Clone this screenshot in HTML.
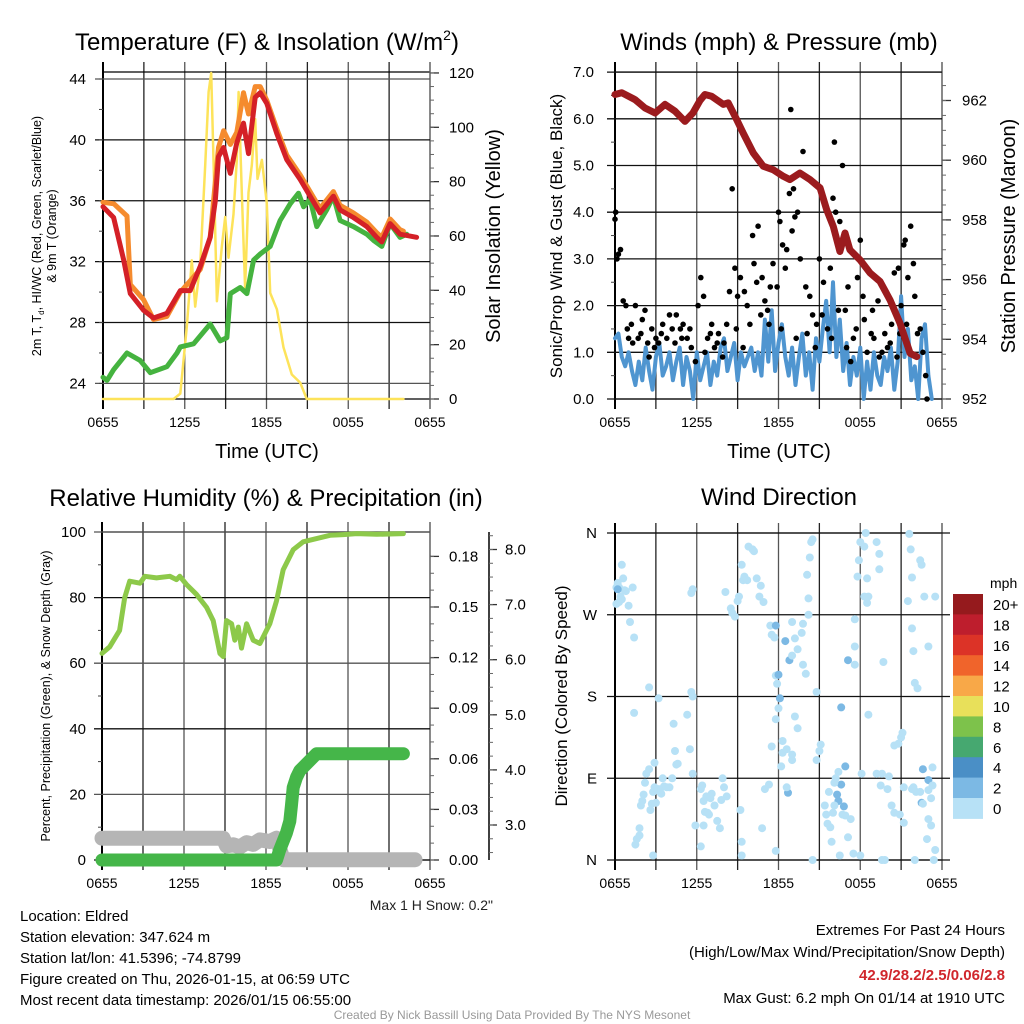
<!DOCTYPE html>
<html><head><meta charset="utf-8"><title>Mesonet station meteogram: Eldred</title>
<style>
html,body{margin:0;padding:0;background:#fff;}
svg{display:block;font-family:"Liberation Sans",Arial,sans-serif;}
</style></head>
<body>
<svg id="chart" width="1024" height="1024" viewBox="0 0 1024 1024" xmlns="http://www.w3.org/2000/svg">
<rect width="1024" height="1024" fill="#fff"/>
<g id="layer"></g>
<!-- titles -->
<text x="267" y="50" font-size="24" text-anchor="middle">Temperature (F) &amp; Insolation (W/m<tspan font-size="14" dy="-10">2</tspan><tspan dy="10">)</tspan></text>
<text x="779" y="50" font-size="24" text-anchor="middle">Winds (mph) &amp; Pressure (mb)</text>
<text x="266" y="506" font-size="24" text-anchor="middle">Relative Humidity (%) &amp; Precipitation (in)</text>
<text x="779" y="505" font-size="24" text-anchor="middle">Wind Direction</text>
<!-- axis titles -->
<text x="267" y="458" font-size="20" text-anchor="middle">Time (UTC)</text>
<text x="779" y="458" font-size="20" text-anchor="middle">Time (UTC)</text>
<text transform="translate(41,236) rotate(-90)" font-size="12.5" text-anchor="middle">2m T, T<tspan font-size="8" dy="3">d</tspan><tspan dy="-3">, HI/WC (Red, Green, Scarlet/Blue)</tspan></text>
<text transform="translate(56,236) rotate(-90)" font-size="12.5" text-anchor="middle">&amp; 9m T (Orange)</text>
<text transform="translate(500,236) rotate(-90)" font-size="20" text-anchor="middle">Solar Insolation (Yellow)</text>
<text transform="translate(562,236) rotate(-90)" font-size="17" text-anchor="middle">Sonic/Prop Wind &amp; Gust (Blue, Black)</text>
<text transform="translate(1015,236) rotate(-90)" font-size="20" text-anchor="middle">Station Pressure (Maroon)</text>
<text transform="translate(50,696) rotate(-90)" font-size="12.5" text-anchor="middle">Percent, Precipitation (Green), &amp; Snow Depth (Gray)</text>
<text transform="translate(567,696) rotate(-90)" font-size="17" text-anchor="middle">Direction (Colored By Speed)</text>
<text x="493" y="910" font-size="14" text-anchor="end" fill="#222">Max 1 H Snow: 0.2"</text>
<!-- footer -->
<g font-size="15" fill="#000">
<text x="20" y="921">Location: Eldred</text>
<text x="20" y="942">Station elevation: 347.624 m</text>
<text x="20" y="963">Station lat/lon: 41.5396; -74.8799</text>
<text x="20" y="984">Figure created on Thu, 2026-01-15, at 06:59 UTC</text>
<text x="20" y="1005">Most recent data timestamp: 2026/01/15 06:55:00</text>
</g>
<g font-size="15" text-anchor="end">
<text x="1005" y="935">Extremes For Past 24 Hours</text>
<text x="1005" y="957">(High/Low/Max Wind/Precipitation/Snow Depth)</text>
<text x="1005" y="980" fill="#d0262c" font-weight="bold">42.9/28.2/2.5/0.06/2.8</text>
<text x="1005" y="1003">Max Gust: 6.2 mph On 01/14 at 1910 UTC</text>
</g>
<text x="512" y="1019" font-size="12" fill="#999" text-anchor="middle">Created By Nick Bassill Using Data Provided By The NYS Mesonet</text>
</svg>
<script>
// ---------- data ----------
const timeTickLabels = ["0655","1255","1855","0055","0655"];
const tempTicks = [24,28,32,36,40,44];
const solarTicks = [0,20,40,60,80,100,120];
const windTicks = [0,1,2,3,4,5,6,7];
const pressTicks = [952,954,956,958,960,962];
const rhTicks = [0,20,40,60,80,100];
const precipTicks = [0,0.03,0.06,0.09,0.12,0.15,0.18];
const snowTicks = [3,4,5,6,7,8];
const dirTicks = ["N","E","S","W","N"];
const speedBins = ["0","2","4","6","8","10","12","14","16","18","20+"];
const speedColors = ["#b7e1f6","#7cb9e4","#4a8fc6","#46a870","#7dc24b","#e8e05a","#f8a848","#f0642b","#dc3327","#be1e2d","#951a1d"];

const tempHours = [0,0.78,1.52,2.0,2.98,3.71,4.69,5.67,6.4,7.14,7.87,8.24,8.48,8.85,9.34,9.82,10.31,10.68,11.17,11.54,12.02,12.76,13.49,14.47,15.2,15.93,16.91,17.4,18.38,19.36,20.09,20.46,21.07,21.8,23.02];
const temp2m = [35.6,34.9,32.1,29.9,28.8,28.3,28.6,30.1,30.1,31.7,33.6,36.0,38.9,39.5,37.8,39.8,41.1,39.1,42.8,43.1,42.4,40.4,38.7,37.4,36.3,35.2,36.3,35.4,34.9,34.3,33.6,33.3,34.5,33.8,33.6];
const temp9mHours = [0,0.8,1.76,2.0,2.98,3.71,4.69,5.67,7.14,7.87,8.48,8.85,9.34,9.82,10.31,10.68,11.17,11.54,12.02,12.76,13.49,14.47,15.2,15.93,16.91,17.4,18.38,19.36,20.09,20.46,21.07,21.8,22.05];
const temp9m = [35.9,35.8,35.0,30.5,29.5,28.2,28.4,30.0,31.5,33.6,39.5,40.6,39.7,40.5,43.1,41.7,43.5,43.5,42.6,40.7,39.0,37.7,36.6,35.5,36.6,35.7,35.2,34.6,33.9,33.6,34.8,34.1,34.0];
const dewHours = [0,0.29,0.78,1.76,2.74,3.47,4.69,5.43,5.67,6.65,7.87,8.6,9.09,9.34,10.07,10.56,11.05,11.54,12.27,13.0,13.74,14.35,14.72,15.2,15.69,16.42,16.91,17.4,18.38,19.36,19.85,20.46,21.07,21.8,22.29];
const dewpoint = [24.4,24.2,24.9,26.0,25.5,24.7,25.1,26.0,26.4,26.6,27.9,26.8,27.0,29.9,30.3,29.9,32.1,32.5,33.0,34.7,35.8,36.5,35.6,36.1,34.3,35.4,36.3,34.7,34.3,33.8,33.4,33.0,34.5,33.6,33.8];
const solarHours = [0,5.18,5.67,6.16,6.52,6.77,7.14,7.5,7.75,7.94,8.11,8.36,8.72,8.97,9.21,9.58,9.82,9.95,10.19,10.43,10.68,10.92,11.17,11.34,11.66,12.02,12.27,12.76,13.25,13.86,14.47,14.96,22.05];
const solar = [0,0,2,27,51,34,50,86,113,120,88,36,56,67,52,68,88,113,76,41,76,86,103,81,88,72,39,33,19,9,6,0,0];

const pressHours = [0,0.49,1.47,2.2,2.94,3.67,4.4,5.14,5.72,6.24,6.6,7.09,7.95,8.31,8.93,9.42,10.15,10.88,11.62,12.35,12.84,13.57,14.31,15.05,15.54,16.02,16.51,16.88,17.24,17.98,18.72,19.45,20.18,20.92,21.66,22.15];
const pressure = [962.2,962.26,962.03,961.75,961.58,961.87,961.64,961.3,961.58,962.0,962.2,962.14,961.87,961.92,961.36,960.9,960.24,959.8,959.68,959.46,959.35,959.57,959.35,959.07,958.34,957.78,956.94,957.56,957.0,956.66,956.22,955.94,955.32,954.54,953.53,953.42];
const windStep = 0.25;
const windSpeed = [1.3,1.4,0.9,0.7,1.0,0.6,0.3,0.8,0.4,1.1,0.6,0.2,
0.9,1.2,0.5,0.7,1.0,0.4,0.8,1.1,0.3,0.9,0.6,0.0,
1.0,0.4,0.7,1.0,0.3,0.8,0.5,1.1,1.3,0.6,0.9,1.2,
0.4,1.0,0.7,0.9,1.1,0.6,1.0,0.5,1.7,0.8,1.9,0.6,
1.2,1.6,0.9,0.5,1.1,0.3,0.9,1.4,0.5,1.0,0.2,1.3,
0.8,1.5,2.1,1.0,2.5,0.9,1.7,0.6,1.2,0.3,0.9,0.5,
1.1,0.0,0.8,0.2,1.0,0.5,0.3,0.9,0.6,1.1,0.2,0.8,
2.2,0.9,1.5,0.4,0.7,0.0,1.3,1.6,0.5,0.0];
const gusts = [[0,3.85],[0.05,4.0],[0.15,3.0],[0.25,3.1],[0.4,3.2],[0.6,2.1],[0.8,2.0],[1.0,1.3],[1.2,1.6],[1.5,2.0],[1.7,1.3],[2.0,1.7],[2.2,1.9],[2.5,0.9],[2.7,1.5],[3.0,1.3],[3.2,1.2],[3.5,1.6],[3.8,1.3],[4.0,1.8],[4.2,1.5],[4.5,1.8],[4.8,1.5],[5.0,1.6],[5.3,1.3],[5.6,1.1],[5.9,0.8],[6.1,2.0],[6.3,2.6],[6.5,2.2],[6.8,1.3],[7.1,1.6],[7.3,1.1],[7.6,1.4],[7.9,0.9],[8.2,1.6],[8.4,2.3],[8.6,4.5],[8.8,2.8],[9.0,2.2],[9.2,2.6],[9.5,2.3],[9.7,2.0],[9.9,1.6],[10.1,3.5],[10.2,2.9],[10.4,2.5],[10.5,3.7],[10.8,2.6],[11.0,2.1],[11.2,1.9],[11.4,2.4],[11.6,2.9],[11.9,2.4],[12.0,4.0],[12.1,3.8],[12.3,3.3],[12.5,2.8],[12.6,3.2],[12.8,4.4],[12.9,6.2],[13.0,3.6],[13.1,4.5],[13.2,3.9],[13.4,4.0],[13.6,3.0],[13.8,5.3],[14.0,2.4],[14.3,2.2],[14.5,1.8],[14.8,1.6],[15.0,3.0],[15.3,2.5],[15.6,1.5],[15.8,2.8],[16.0,4.3],[16.1,5.5],[16.2,4.0],[16.5,3.8],[16.7,5.0],[16.9,1.9],[17.1,2.4],[17.3,0.8],[17.5,1.3],[17.8,2.6],[18.0,3.4],[18.2,2.2],[18.5,1.0],[18.8,1.4],[19.0,1.3],[19.3,2.1],[19.6,1.0],[19.8,1.4],[20.0,1.1],[20.3,1.6],[20.5,2.7],[20.7,0.9],[20.8,2.8],[21.0,2.0],[21.2,3.3],[21.3,3.4],[21.5,2.6],[21.7,3.7],[21.9,2.9],[22.0,2.2],[22.2,1.4],[22.6,1.0],[22.8,0.5],[22.9,0.0],
[0.9,1.5],[1.3,1.2],[1.9,1.4],[2.4,1.2],[2.9,1.1],[3.4,1.4],[4.4,1.2],[4.9,1.3],[5.5,1.5],[6.6,1.0],[7.0,1.4],[7.5,1.2],[8.0,1.2],[8.9,1.5],[9.4,1.1],[10.7,1.8],[11.3,1.6],[12.2,1.5],[13.3,1.3],[14.1,1.4],[14.7,1.1],[15.2,1.8],[15.9,1.3],[16.4,1.9],[17.0,1.1],[17.7,1.5],[18.3,1.7],[18.9,1.9],[19.4,0.9],[20.2,1.2],[20.9,1.4],[21.4,1.6],[22.4,1.5]];

const rhHours = [0,0.56,1.29,1.66,2.03,2.78,3.14,3.99,4.96,5.45,5.69,6.18,6.91,7.65,8.14,8.63,8.87,9.11,9.48,9.72,9.97,10.21,10.58,11.06,11.55,12.28,12.77,13.26,13.99,14.72,15.7,16.68,17.65,18.63,20.1,22.05];
const rh = [63,65,70,80,85,84.4,86.5,86,86.5,85.5,86.5,84,81,77,73,63,62,73,72,67,71,64.6,72,67,66,72,79,88.5,94.6,97,98,99,99.2,99.5,99.3,99.5];
const precipHours = [0,12.77,13.0,13.49,13.74,13.86,13.99,14.23,14.47,14.96,15.7,22.05];
const precip = [0,0,0.006,0.016,0.023,0.032,0.043,0.049,0.053,0.057,0.063,0.063];
const snowHours = [0,8.87,9.11,9.6,10.09,10.58,11.06,11.55,12.28,12.77,13.26,22.9];
const snow = [2.76,2.76,2.62,2.64,2.6,2.68,2.65,2.73,2.7,2.76,2.37,2.37];

// [hour, direction deg, speed mph]
const dirObs = [[0.1,300,1],[0.2,305,1],[0.3,300,1],[0.4,290,1],[0.5,325,1],[0.6,310,1],[0.7,297,1],[0.8,296,1],[1.0,280,1],[1.1,262,1],[0.1,282,1],[0.3,284,1],[0.5,287,1],[1.3,300,1],[1.4,245,1],[0.2,298,3],
[1.4,162,1],[1.5,17,1],[1.6,23,1],[1.8,27,1],[1.8,35,1],[1.9,60,1],[2.0,65,1],[2.1,72,1],[2.2,85,1],[2.3,95,1],[2.5,100,1],[2.5,190,1],[2.6,55,1],[2.7,62,1],[2.8,75,1],[2.9,80,1],[2.9,107,1],[3.2,178,1],[3.0,63,1],[3.2,78,1],[3.3,75,1],[3.4,73,1],[3.5,90,1],[3.6,81,1],[3.8,80,1],[4.0,80,1],[4.2,90,1],[4.3,150,1],[4.4,120,1],[4.5,105,1],[4.6,106,1],[5.6,185,1],[5.7,180,1],[5.3,160,1],[5.5,122,1],[5.7,95,1],[5.9,38,1],[2.8,5,1],
[6.3,78,1],[6.4,82,1],[6.5,65,1],[6.6,53,1],[6.7,70,1],[6.9,50,1],[7.0,68,1],[7.1,73,1],[7.3,60,1],[7.5,43,1],[7.7,35,1],[7.9,90,1],[8.0,80,1],[8.2,70,1],[7.8,66,1],[6.8,52,1],[6.5,38,1],[6.3,15,1],
[5.7,298,1],[5.6,294,1],[8.1,295,1],[8.5,277,1],[8.6,272,1],[8.8,268,1],[9.0,285,1],[9.1,290,1],[9.3,325,1],[9.4,308,1],[9.5,312,1],[9.7,308,1],[9.8,345,1],[10.1,342,1],[10.2,340,1],[10.4,310,1],[10.6,290,1],[10.7,302,1],[10.9,284,1],[11.4,258,1],[11.5,248,1],[11.7,245,1],[11.8,203,1],[11.9,194,1],[12.0,167,1],[12.2,103,1],[12.3,118,1],[11.8,155,1],[11.5,125,1],[11.3,83,1],[11.0,78,1],[10.8,35,1],[9.3,20,1],[9.2,55,1],[11.8,10,1],[9.3,5,1],
[12.1,178,3],[12.0,204,3],[11.8,258,3],[12.5,241,3],[12.8,220,3],[12.7,74,3],[16.9,103,3],[17.1,220,3],[16.6,168,3],[16.4,65,3],[16.6,83,3],[16.8,59,3],[16.3,72,3],[22.5,63,3],[22.6,100,3],[23.0,88,3],
[12.3,131,1],[12.6,122,1],[12.6,80,1],[13.0,110,1],[13.0,116,1],[13.2,158,1],[13.4,145,1],[13.0,225,1],[13.4,232,1],[13.7,250,1],[13.8,260,1],[13.0,262,1],[13.2,244,1],[13.8,215,1],[14.0,205,1],[14.2,270,1],[14.2,288,1],[14.1,314,1],[14.3,333,1],[14.4,350,1],[14.5,353,1],[14.8,185,1],[15.0,120,1],[14.8,110,1],[15.1,127,1],[15.4,60,1],[15.5,50,1],[15.6,40,1],[15.7,75,1],[16.0,52,1],[16.1,60,1],[16.1,85,1],[16.2,90,1],[16.4,97,1],[15.8,36,1],[15.9,20,1],[16.5,5,1],[16.7,50,1],[16.9,49,1],[17.1,25,1],[17.3,45,1],[17.6,235,1],[17.6,215,1],[17.6,265,1],[17.8,312,1],[17.9,330,1],[18.0,350,1],[18.3,345,1],[18.4,360,1],[18.5,310,1],[18.5,283,1],[18.3,290,1],[18.1,95,1],[18.6,160,1],[18.6,290,1],[19.2,350,1],[19.4,337,1],[19.4,320,1],[19.7,218,1],[19.2,95,1],[19.5,82,1],[19.6,95,1],[20.0,78,1],[20.1,92,1],[20.5,126,1],[20.3,60,1],[20.8,128,1],[20.5,52,1],[21.0,135,1],[21.1,140,1],[21.2,80,1],[20.9,50,1],[21.2,41,1],[21.8,78,1],[21.9,80,1],[22.1,75,1],[21.5,285,1],[21.6,359,1],[21.7,342,1],[21.8,311,1],[21.8,255,1],[21.9,230,1],[22.0,195,1],[22.5,325,1],[22.4,330,1],[22.2,189,1],[22.4,75,1],[22.6,62,1],[23.0,77,1],[23.2,68,1],[23.3,102,1],[23.3,82,1],[23.0,235,1],[22.7,290,1],[23.5,290,1],[23.0,45,1],[23.2,38,1],[23.5,11,1],[23.4,0,1],[22.9,23,1],[22.0,0,1],[19.6,0,1],[19.8,0,1],[14.5,0,1],[18.0,5,1],[17.5,7,1]];

// ---------- scales ----------
const P1 = {l:103,r:430,t:72,b:399};
const P2 = {l:615,r:942,t:72,b:399};
const P3 = {l:102,r:430,t:532,b:860};
const P4 = {l:615,r:942,t:533,b:860};
const xs = (P)=> (h)=> P.l + h*(P.r-P.l)/24;
const x1 = xs(P1), x2 = xs(P2), x3 = xs(P3), x4 = xs(P4);
const y1T = t => 79 + (44-t)*15.22;
const y1S = s => 399 - s*2.717;
const y2W = w => 399 - w*46.7;
const y2P = p => 399 - (p-952)*29.85;
const y3R = r => 860 - r*3.28;
const y3P = v => 860 - v*1686.7;
const y3S = s => 825 - (s-3)*55.1;
const y4D = d => 860 - d*(327/360);

const NS = "http://www.w3.org/2000/svg";
const layer = document.getElementById('layer');
function mk(tag, attrs, parent){
  const e = document.createElementNS(NS, tag);
  for (const k in attrs) e.setAttribute(k, attrs[k]);
  (parent||layer).appendChild(e);
  return e;
}
function line(x1_,y1_,x2_,y2_,stroke,w,parent){ return mk('line',{x1:x1_,y1:y1_,x2:x2_,y2:y2_,stroke:stroke,'stroke-width':w},parent); }
function txt(x,y,s,size,anchor,parent){ const t = mk('text',{x:x,y:y,'font-size':size,'text-anchor':anchor||'middle'},parent); t.textContent = s; return t; }
function poly(hs, vs, fx, fy, color, w, name){
  const p = mk('polyline',{points: hs.map((h,i)=>fx(h).toFixed(1)+','+fy(vs[i]).toFixed(1)).join(' '), fill:'none', stroke:color,'stroke-width':w,'stroke-linejoin':'round','stroke-linecap':'round'});
  
  
  return p;
}

function frame(P, fx, name){
  const g = mk('g',{});
  
  
  for (let i=0;i<=8;i++){
    const x = fx(i*3);
    line(x,P.t-10,x,P.b+10,i%2? '#222':'#555',1.3,g);
  }
  timeTickLabels.forEach((s,i)=>{
    const t = txt(fx(i*6), P.b+28, s, 14, 'middle', g);
    
    
  });
  line(P.l,P.t,P.r,P.t,'#000',1.3,g);
  line(P.l,P.b,P.r,P.b,'#000',1.3,g);
  line(P.l,P.t-10,P.l,P.b+10,'#000',2,g);
  line(P.r,P.t-10,P.r,P.b+10,'#666',1.3,g);
  return g;
}

// ---- Panel 1 ----
const g1 = frame(P1, x1, 'temperature-panel-frame');
tempTicks.forEach(t=>{
  const y=y1T(t);
  line(P1.l-8,y,P1.r,y,t===44||t===24?'#555':'#111',1.3,g1);
  const l = txt(86,y+5,String(t),15,'end',g1);
  
  
});
for (let t=22; t<=44; t+=2){ const y=y1T(t); if(y>P1.t&&y<P1.b) line(P1.l-4,y,P1.l,y,'#444',1,g1); }
solarTicks.forEach(s=>{
  const y=y1S(s);
  line(P1.r,y,P1.r+9,y,'#333',1.3,g1);
  const l = txt(449,y+5,String(s),15,'start',g1);
  
  
});
for (let s=0; s<=120; s+=5){ line(P1.r,y1S(s),P1.r+4,y1S(s),'#666',1,g1); }
poly(solarHours, solar, x1, y1S, '#fde35a', 2.5, 'solar-insolation-line');
poly(dewHours, dewpoint, x1, y1T, '#45b33f', 5, 'dewpoint-line');
poly(temp9mHours, temp9m, x1, y1T, '#f58b2e', 5, 'temp-9m-line');
poly(tempHours, temp2m, x1, y1T, '#d42027', 5, 'temp-2m-line');

// ---- Panel 2 ----
const g2 = frame(P2, x2, 'winds-panel-frame');
windTicks.forEach(w=>{
  const y=y2W(w);
  line(P2.l-8,y,P2.r,y,'#111',1.3,g2);
  const l = txt(594,y+5,w.toFixed(1),15,'end',g2);
  
  
});
for (let w=0.5; w<7; w+=1){ line(P2.l-4,y2W(w),P2.l,y2W(w),'#444',1,g2); }
pressTicks.forEach(p=>{
  const y=y2P(p);
  line(P2.r,y,P2.r+9,y,'#333',1.3,g2);
  const l = txt(962,y+5,String(p),15,'start',g2);
  
  
});
for (let p=952; p<=962.8; p+=0.5){ line(P2.r,y2P(p),P2.r+4,y2P(p),'#666',1,g2); }
poly(windSpeed.map((v,i)=>i*windStep), windSpeed, x2, y2W, '#4f95d0', 4, 'wind-speed-line');
gusts.forEach(g=>{
  const c = mk('circle',{cx:x2(g[0]).toFixed(1), cy:y2W(g[1]).toFixed(1), r:2.8, fill:'#000'});
  
  
});
poly(pressHours, pressure, x2, y2P, '#9b1b1e', 7, 'pressure-line');

// ---- Panel 3 ----
const g3 = frame(P3, x3, 'humidity-panel-frame');
rhTicks.forEach(r=>{
  const y=y3R(r);
  line(P3.l-8,y,P3.r,y,r%40===20?'#555':'#111',1.3,g3);
  const l = txt(86,y+5,String(r),15,'end',g3);
  
  
});
for (let r=10; r<100; r+=20){ line(P3.l-4,y3R(r),P3.l,y3R(r),'#444',1,g3); }
precipTicks.forEach(v=>{
  const y=y3P(v);
  line(P3.r,y,P3.r+9,y,'#333',1.3,g3);
  const l = txt(449,y+5,v.toFixed(2),15,'start',g3);
  
  
});
for (let v=0; v<=0.19; v+=0.01){ line(P3.r,y3P(v),P3.r+4,y3P(v),'#666',1,g3); }
line(489,P3.t,489,P3.b,'#000',1.5,g3);
snowTicks.forEach(s=>{
  const y=y3S(s);
  line(489,y,497,y,'#333',1.3,g3);
  const l = txt(505,y+5,s.toFixed(1),15,'start',g3);
  
  
});
for (let s=2.5; s<=8.3; s+=0.25){ line(489,y3S(s),493,y3S(s),'#666',1,g3); }
poly(rhHours, rh, x3, y3R, '#8dc94a', 5, 'relative-humidity-line');
poly(snowHours, snow, x3, y3S, '#b5b5b5', 15, 'snow-depth-line');
poly(precipHours, precip, x3, y3P, '#45b649', 13, 'precipitation-line');

// ---- Panel 4 ----
const g4 = frame(P4, x4, 'wind-direction-panel-frame');
dirTicks.forEach((s,i)=>{
  const y=y4D(i*90);
  line(P4.l-8,y,P4.r+8,y,'#111',1.3,g4);
  const l = txt(597,y+5,s,15,'end',g4);
  
  
});
dirObs.forEach(o=>{
  const bin = Math.min(10, Math.floor(o[2]/2));
  const c = mk('circle',{cx:x4(o[0]).toFixed(1), cy:y4D(o[1]).toFixed(1), r:4, fill:speedColors[bin]});
  
  
});
// colorbar
const cb = mk('g',{});


txt(990,588,'mph',14,'start',cb);
speedBins.forEach((s,i)=>{
  const k = 10-i;
  const y = 594 + i*20.4;
  const r = mk('rect',{x:953,y:y.toFixed(1),width:30,height:20.9,fill:speedColors[k]},cb);
  
  
  const l = txt(993,y+16,speedBins[k],15,'start',cb);
  
  
});
</script>
</body></html>
